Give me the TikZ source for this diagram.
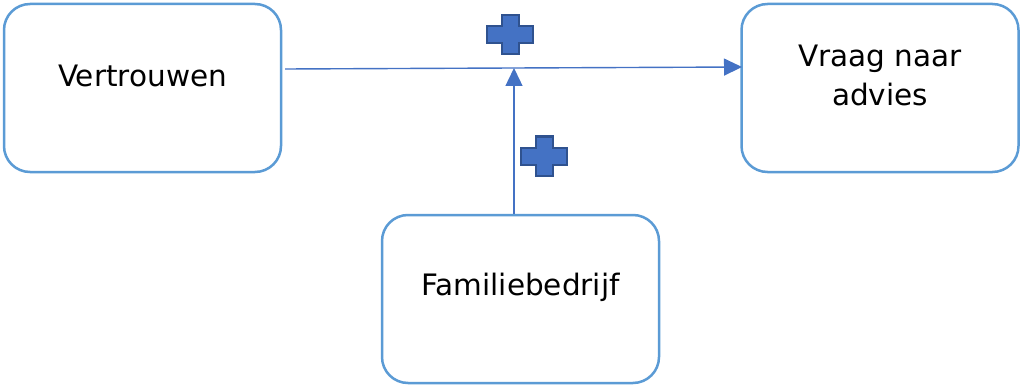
\documentclass[tikz,border=0pt]{standalone}
\usepackage{fontspec}
\setmainfont{DejaVu Sans}
\usetikzlibrary{arrows.meta}
\definecolor{boxblue}{HTML}{5B9BD5}
\definecolor{lineblue}{HTML}{4472C4}
\definecolor{plusedge}{HTML}{2F528F}
\tikzset{
  box/.style={draw=boxblue, line width=2.5pt, rounded corners=26pt, fill=white,
    minimum width=277pt, minimum height=168pt, inner sep=0pt},
  txt/.style={font=\fontsize{29.5pt}{39pt}\selectfont, align=center, text=black},
  conn/.style={draw=lineblue, line width=1.4pt, -{Triangle[length=18pt,width=17pt]}},
  plus/.style={fill=lineblue, draw=plusedge, line width=2pt, line join=miter},
}
\newcommand{\plusat}[2]{%
  \path[plus] (#1-23,#2-8.5) -- (#1-8.5,#2-8.5) -- (#1-8.5,#2-19.5) -- (#1+8.5,#2-19.5)
    -- (#1+8.5,#2-8.5) -- (#1+23,#2-8.5) -- (#1+23,#2+8.5) -- (#1+8.5,#2+8.5)
    -- (#1+8.5,#2+19.5) -- (#1-8.5,#2+19.5) -- (#1-8.5,#2+8.5) -- (#1-23,#2+8.5) -- cycle;}
\begin{document}
\begin{tikzpicture}[x=1pt,y=-1pt]
\useasboundingbox (0,0) rectangle (1022,385);
\node[box, label={[txt, yshift=12pt]center:Vertrouwen}] (v) at (142.5,88) {};
\node[box, label={[txt, yshift=13pt]center:Vraag naar\\advies}] (a) at (880,88) {};
\node[box, label={[txt, yshift=12pt]center:Familiebedrijf}] (f) at (520.5,299) {};
\coordinate (s) at (285,69);
\coordinate (e) at (742,67);
\coordinate (m) at (514,68);
\draw[conn] (s) -- (e);
\draw[conn] (f.north -| m) -- (m);
\plusat{510}{35}
\plusat{544}{156}
\end{tikzpicture}
\end{document}
